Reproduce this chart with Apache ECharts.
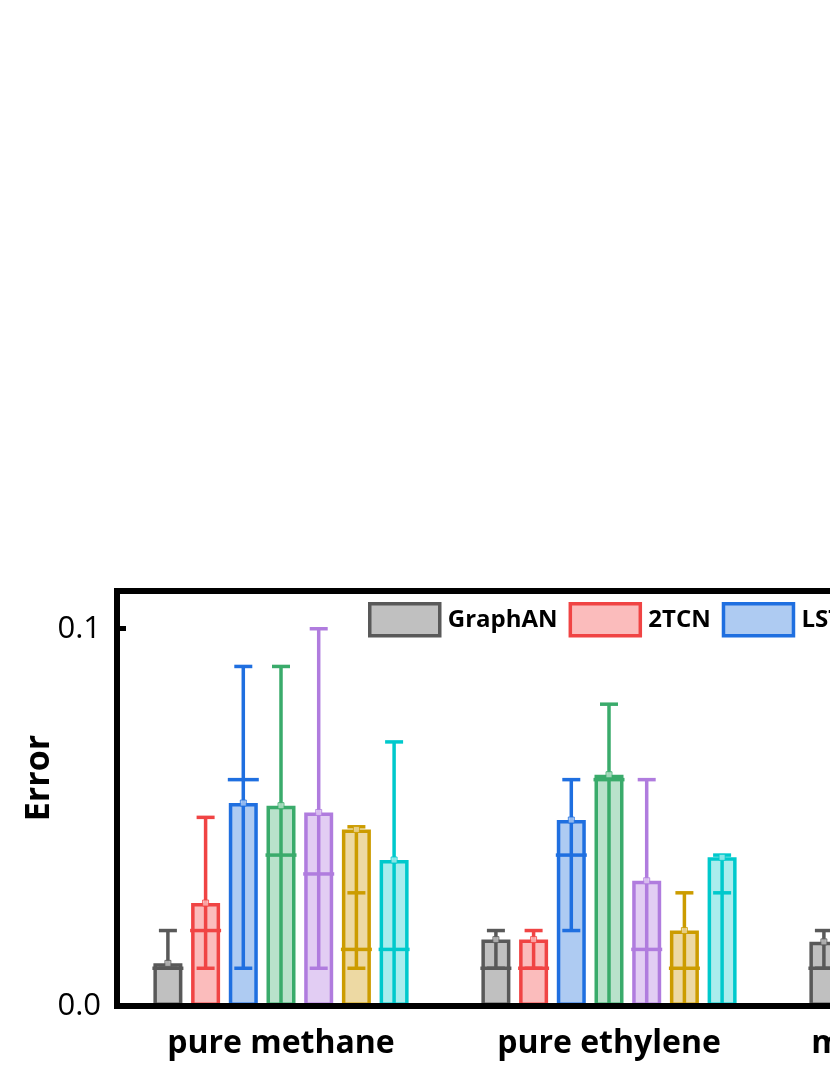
<!DOCTYPE html>
<html>
<head>
<meta charset="utf-8">
<script src="https://cdn.jsdelivr.net/npm/echarts@6/dist/echarts.min.js"></script>
<style>
  html, body { margin: 0; padding: 0; overflow: hidden; background: #fff; }
  #errorChart { width: 1800px; height: 1075px; }
</style>
</head>
<body>
<div id="errorChart"></div>
<script>
  // data
  var categories = ['pure methane', 'pure ethylene', 'mixed methane'];
  var models = ['GraphAN', '2TCN', 'LSTM', 'GRU', 'GCN', 'TCN', 'Transformer'];

  // bar height (mean) per model, one array per category
  var meanMethane  = [0.0113, 0.0273, 0.0538, 0.0531, 0.0513, 0.0468, 0.0387];
  var meanEthylene = [0.0176, 0.0176, 0.0493, 0.0613, 0.0332, 0.0200, 0.0394];
  var meanMixed    = [0.0170, 0.0220, 0.0450, 0.0500, 0.0350, 0.0250, 0.0300];
  // whisker ends
  var lowMethane   = [0.010, 0.010, 0.010, 0, 0.010, 0.010, 0];
  var highMethane  = [0.020, 0.050, 0.090, 0.090, 0.100, 0.0475, 0.070];
  var lowEthylene  = [0.010, 0.010, 0.020, 0, 0, 0, 0];
  var highEthylene = [0.020, 0.020, 0.060, 0.080, 0.060, 0.030, 0.040];
  var lowMixed     = [0.010, 0.010, 0.015, 0, 0.010, 0.010, 0];
  var highMixed    = [0.020, 0.035, 0.070, 0.075, 0.060, 0.040, 0.045];
  // full-width middle line
  var medMethane   = [0.010, 0.020, 0.060, 0.040, 0.035, 0.015, 0.015];
  var medEthylene  = [0.010, 0.010, 0.040, 0.060, 0.015, 0.010, null];
  var medMixed     = [0.010, 0.015, 0.040, 0.045, 0.030, 0.020, 0.020];
  // extra short marks
  var markMethane  = [null, null, null, null, null, 0.030, null];
  var markEthylene = [null, null, null, null, null, null, 0.030];
  var markMixed    = [null, null, null, null, null, null, null];

  var yTicks = [0, 0.1];

  var fills   = ['#c0c0c0', '#fbbcbc', '#aecbf2', '#b9e2cb', '#e2cdf3', '#edd9a3', '#a9eded'];
  var strokes = ['#595959', '#f04444', '#1f6fe0', '#3aab6b', '#b07cde', '#cc9c00', '#00c9cc'];

  var means = [meanMethane, meanEthylene, meanMixed];
  var lows = [lowMethane, lowEthylene, lowMixed];
  var highs = [highMethane, highEthylene, highMixed];
  var meds = [medMethane, medEthylene, medMixed];
  var marks = [markMethane, markEthylene, markMixed];

  var BAR_W = 29;
  var BAR_GAP = 8.7;
  var CAP_W = 18;
  var LW = 3.5;
  var FONT = '"Open Sans", "Noto Sans", sans-serif';

  var chartDom = document.getElementById('errorChart');
  var myChart = echarts.init(chartDom);
  var series = [];

  models.forEach(function (name, k) {
    series.push({
      name: name,
      type: 'bar',
      barWidth: BAR_W,
      barGap: (BAR_GAP / BAR_W * 100) + '%',
      data: means.map(function (m) { return m[k]; }),
      itemStyle: { color: fills[k], borderColor: strokes[k], borderWidth: LW },
      z: 2
    });
  });

  models.forEach(function (name, k) {
    series.push({
      name: name + ' err',
      type: 'custom',
      z: 3,
      data: categories.map(function (c, i) { return [i, means[i][k]]; }),
      renderItem: function (params, api) {
        var i = params.dataIndex;
        var offset = (k - 3) * (BAR_W + BAR_GAP);
        var cx = api.coord([i, 0])[0] + offset;
        var yOf = function (v) { return api.coord([i, v])[1]; };
        var st = { stroke: strokes[k], lineWidth: LW };
        var kids = [];
        var lo = lows[i][k], hi = highs[i][k];
        kids.push({ type: 'line', shape: { x1: cx, y1: yOf(lo), x2: cx, y2: yOf(hi) }, style: st });
        kids.push({ type: 'line', shape: { x1: cx - CAP_W / 2, y1: yOf(hi), x2: cx + CAP_W / 2, y2: yOf(hi) }, style: st });
        if (lo > 0) {
          kids.push({ type: 'line', shape: { x1: cx - CAP_W / 2, y1: yOf(lo), x2: cx + CAP_W / 2, y2: yOf(lo) }, style: st });
        }
        var md = meds[i][k];
        if (md != null) {
          kids.push({ type: 'line', shape: { x1: cx - BAR_W / 2 - 1, y1: yOf(md), x2: cx + BAR_W / 2 + 1, y2: yOf(md) }, style: st });
        }
        var mk = marks[i][k];
        if (mk != null) {
          kids.push({ type: 'line', shape: { x1: cx - CAP_W / 2, y1: yOf(mk), x2: cx + CAP_W / 2, y2: yOf(mk) }, style: st });
        }
        var my = yOf(means[i][k]);
        kids.push({ type: 'rect', shape: { x: cx - 3, y: my - 3, width: 6, height: 6 },
          style: { fill: fills[k], stroke: strokes[k], lineWidth: 1, opacity: 0.8 } });
        return { type: 'group', children: kids };
      }
    });
  });

  var option = {
    animation: false,
    backgroundColor: '#fff',
    grid: {
      left: 117, top: 591, width: 984, height: 415,
      show: true, borderColor: '#000', borderWidth: 6, backgroundColor: 'transparent'
    },
    legend: {
      data: models,
      left: 363, top: 597,
      width: 1400,
      icon: 'rect',
      itemWidth: 70, itemHeight: 32, itemGap: 11,
      itemStyle: { borderWidth: 3.5 },
      textStyle: { fontFamily: FONT, fontWeight: 'bold', fontSize: 24, color: '#000', padding: [0, 0, 0, 3] }
    },
    xAxis: {
      type: 'category',
      data: categories,
      z: 10,
      axisLine: { show: true, lineStyle: { color: '#000', width: 6 } },
      axisTick: { show: false },
      axisLabel: { fontFamily: FONT, fontWeight: 'bold', fontSize: 32, color: '#000', margin: 22 }
    },
    yAxis: {
      type: 'value',
      min: 0, max: 0.11,
      z: 10,
      axisLine: { show: true, lineStyle: { color: '#000', width: 6 } },
      axisTick: { show: true, inside: true, length: 9, customValues: [0.1], lineStyle: { color: '#000', width: 5 } },
      axisLabel: {
        customValues: yTicks,
        fontFamily: FONT, fontSize: 31, color: '#000', margin: 16,
        formatter: function (v) { return v.toFixed(1); }
      },
      splitLine: { show: false }
    },
    graphic: [{
      type: 'text', x: 39, y: 778, rotation: Math.PI / 2,
      style: { text: 'Error', font: 'bold 34px ' + FONT, fill: '#000', align: 'center', verticalAlign: 'middle' }
    }],
    series: series
  };

  option && myChart.setOption(option);
</script>
</body>
</html>
